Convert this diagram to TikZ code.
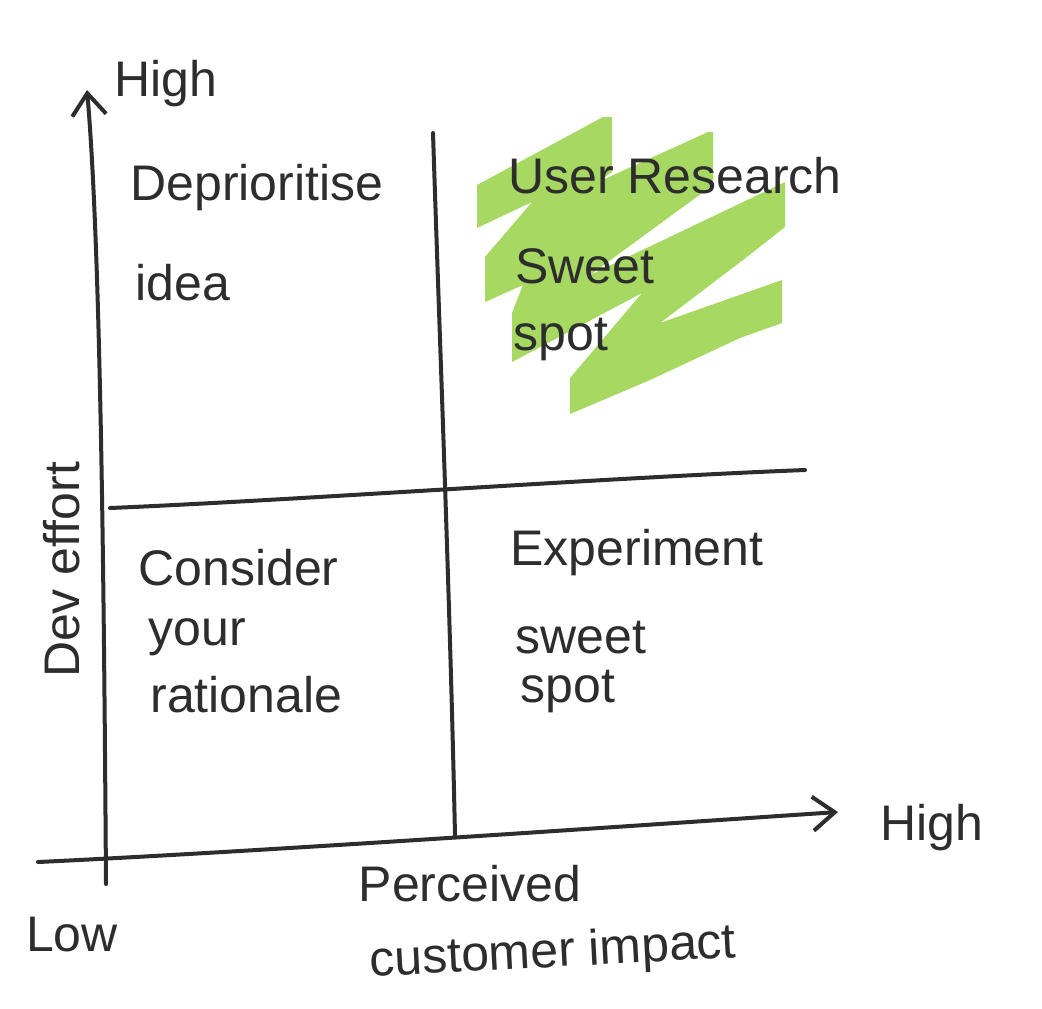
\documentclass[tikz,border=0pt]{standalone}
\usepackage{fontspec}
\setmainfont{Liberation Sans}
\usetikzlibrary{arrows.meta}
\definecolor{ink}{RGB}{45,45,45}
\definecolor{hl}{RGB}{166,216,98}
\tikzset{
  pen/.style={draw=ink, line width=2pt, line cap=round, line join=round},
  hand/.style={text=ink, font=\fontsize{25}{30}\selectfont, inner sep=0pt},
  axisarrow/.style={pen, -{Straight Barb[length=11pt,width=17pt,line width=2pt]}}
}
\begin{document}
\begin{tikzpicture}[x=0.5pt,y=-0.5pt]
\useasboundingbox (0,0) rectangle (1042,1008);
% highlight
\fill[hl] (477,185) -- (603,117) -- (612,117) -- (612,172) -- (598,182) -- (708,132) -- (713,132) -- (713,185)
  -- (590,275) -- (785,182) -- (785,227) -- (743,260) -- (660,323) -- (782,280) -- (782,323) -- (740,338)
  -- (650,380) -- (570,414) -- (570,378) -- (642,293) -- (512,362) -- (512,313) -- (523,285) -- (485,302)
  -- (485,257) -- (532,202) -- (477,228) -- cycle;
% axis coordinates
\coordinate (ybot) at (106,884);
\coordinate (ytop) at (87,90);
\coordinate (xleft) at (38,862);
\coordinate (xright) at (838,812);
\coordinate (vtop) at (433,133);
\coordinate (vbot) at (455,836);
\coordinate (hleft) at (110,508);
\coordinate (hright) at (805,470);
% axes
\draw[axisarrow] (ybot) .. controls (104,600) and (101,250) .. (ytop);
\draw[axisarrow] (xleft) .. controls (250,852) and (600,828) .. (xright);
% quadrant lines
\draw[pen] (vtop) .. controls (440,350) and (450,600) .. (vbot);
\draw[pen] (hleft) .. controls (300,500) and (600,478) .. (hright);
% labels
\node[hand] (hightop) at (166,84) {High};
\node[hand] (highright) at (932,828) {High};
\node[hand] (low) at (72,935) {Low};
\node[hand, rotate=90] (dev) at (62,570) {Dev effort};
\node[hand] (perc) at (470,884) {Perceived};
\node[hand, rotate=3] (cust) at (553,954) {customer impact};
% quadrant texts
\node[hand, anchor=west] (depr) at (130,188) {Deprioritise};
\node[hand, anchor=west] (idea) at (135,283) {idea};
\node[hand, anchor=west] (ur) at (508,176) {User Research};
\node[hand, anchor=west] (sw1) at (515,266) {Sweet};
\node[hand, anchor=west] (sp1) at (513,340) {spot};
\node[hand, anchor=west] (cons) at (138,568) {Consider};
\node[hand, anchor=west] (your) at (148,637) {your};
\node[hand, anchor=west] (rat) at (150,695) {rationale};
\node[hand, anchor=west] (exp) at (510,553) {Experiment};
\node[hand, anchor=west] (sw2) at (515,638) {sweet};
\node[hand, anchor=west] (sp2) at (520,692) {spot};
\end{tikzpicture}
\end{document}
